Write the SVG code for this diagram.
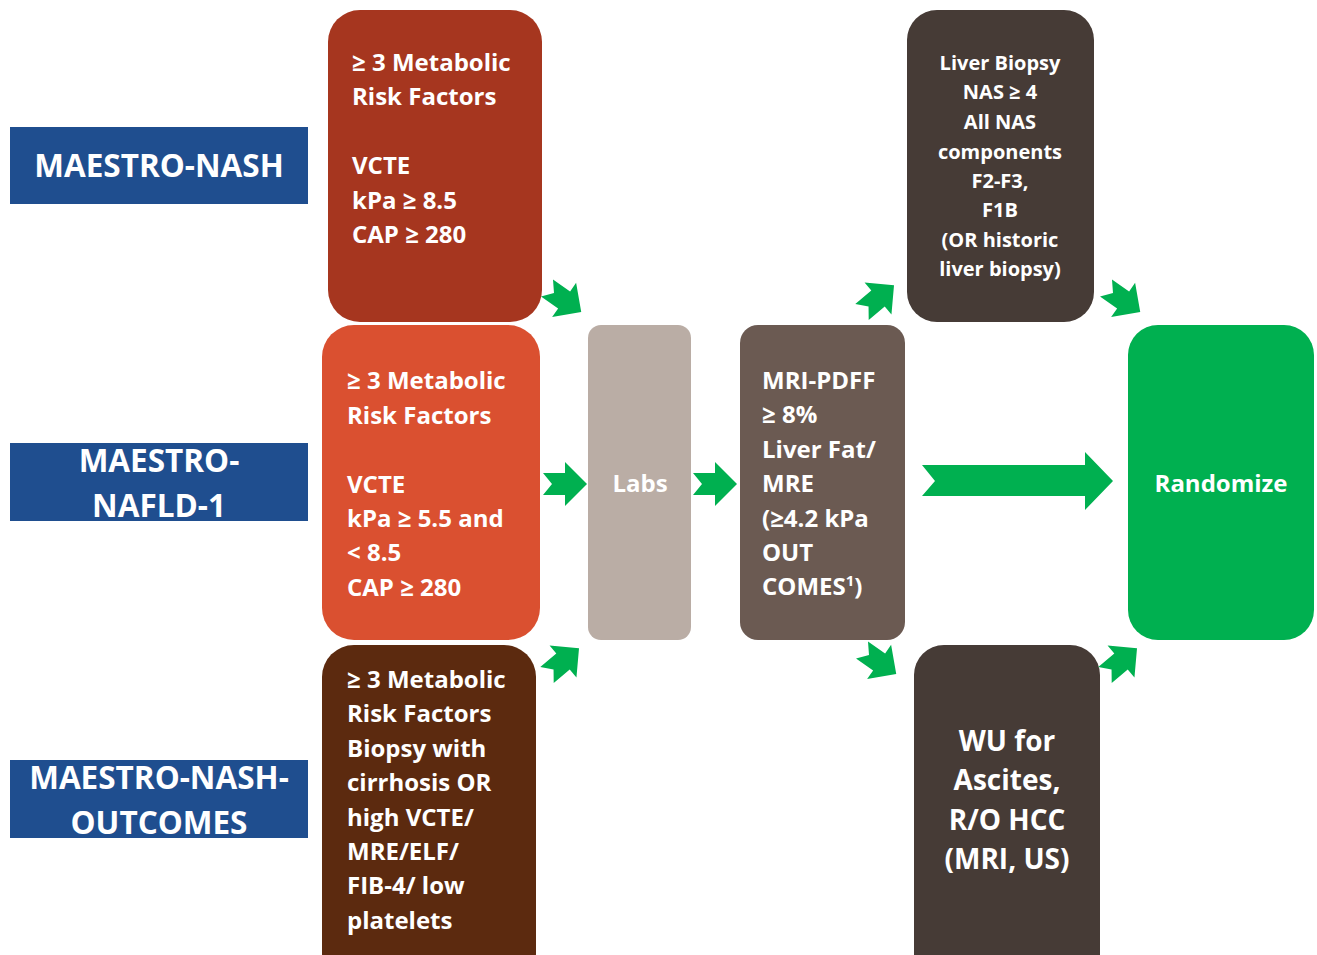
<svg xmlns="http://www.w3.org/2000/svg" xmlns:xlink="http://www.w3.org/1999/xlink" width="1317" height="955" viewBox="0 0 1317 955">
<style>
.t{font-family:"Open Sans","Liberation Sans",Arial,sans-serif;font-weight:bold;fill:#fff}
.lbl{font-size:31.5px;text-anchor:middle}
.bx{font-size:24px}
.sm{font-size:20px;text-anchor:middle}
.big{font-size:28px;text-anchor:middle}
.arr{fill:#00B050}
</style>
<defs>
<path id="ch" d="M0,-11 L22,-11 L22,-22 L44,0 L22,22 L22,11 L0,11 L9,0 Z"/>
</defs>
<rect width="1317" height="955" fill="#fff"/>
<g id="lbl-nash"><rect x="10" y="127" width="298" height="77" fill="#1F4E8F"/><text class="t lbl" x="159" y="177">MAESTRO-NASH</text></g>
<g id="lbl-nafld"><rect x="10" y="443" width="298" height="78" fill="#1F4E8F"/><text class="t lbl" x="159" y="472">MAESTRO-</text><text class="t lbl" x="159" y="517">NAFLD-1</text></g>
<g id="lbl-out"><rect x="10" y="760" width="298" height="78" fill="#1F4E8F"/><text class="t lbl" x="159" y="789">MAESTRO-NASH-</text><text class="t lbl" x="159" y="834">OUTCOMES</text></g>
<g id="box-nash"><rect x="328" y="10" width="214" height="312" rx="32" fill="#A6361F"/>
<text class="t bx"><tspan x="352" y="71">≥ 3 Metabolic</tspan><tspan x="352" y="105">Risk Factors</tspan><tspan x="352" y="174">VCTE</tspan><tspan x="352" y="209">kPa ≥ 8.5</tspan><tspan x="352" y="243">CAP ≥ 280</tspan></text></g>
<g id="box-nafld"><rect x="322" y="325" width="218" height="315" rx="32" fill="#DA5030"/>
<text class="t bx"><tspan x="347" y="389">≥ 3 Metabolic</tspan><tspan x="347" y="424">Risk Factors</tspan><tspan x="347" y="493">VCTE</tspan><tspan x="347" y="527">kPa ≥ 5.5 and</tspan><tspan x="347" y="561">&lt; 8.5</tspan><tspan x="347" y="596">CAP ≥ 280</tspan></text></g>
<g id="box-out"><rect x="322" y="645" width="214" height="340" rx="32" fill="#5C2A0F"/>
<text class="t bx"><tspan x="347" y="688">≥ 3 Metabolic</tspan><tspan x="347" y="722">Risk Factors</tspan><tspan x="347" y="757">Biopsy with</tspan><tspan x="347" y="791">cirrhosis OR</tspan><tspan x="347" y="826">high VCTE/</tspan><tspan x="347" y="860">MRE/ELF/</tspan><tspan x="347" y="894">FIB-4/ low</tspan><tspan x="347" y="929">platelets</tspan></text></g>
<g id="box-labs"><rect x="588" y="325" width="103" height="315" rx="13" fill="#BAADA5"/><text class="t bx" x="640" y="492" text-anchor="middle">Labs</text></g>
<g id="box-mri"><rect x="740" y="325" width="165" height="315" rx="18" fill="#6B5A52"/>
<text class="t bx"><tspan x="762" y="389">MRI-PDFF</tspan><tspan x="762" y="423">≥ 8%</tspan><tspan x="762" y="458">Liver Fat/</tspan><tspan x="762" y="492">MRE</tspan><tspan x="762" y="527">(≥4.2 kPa</tspan><tspan x="762" y="561">OUT</tspan><tspan x="762" y="595">COMES<tspan font-size="15" dy="-9">1</tspan><tspan dy="9">)</tspan></tspan></text></g>
<g id="box-biopsy"><rect x="907" y="10" width="187" height="312" rx="30" fill="#463B36"/>
<text class="t sm"><tspan x="1000" y="70">Liver Biopsy</tspan><tspan x="1000" y="99">NAS ≥ 4</tspan><tspan x="1000" y="129">All NAS</tspan><tspan x="1000" y="159">components</tspan><tspan x="1000" y="188">F2-F3,</tspan><tspan x="1000" y="217">F1B</tspan><tspan x="1000" y="247">(OR historic</tspan><tspan x="1000" y="276">liver biopsy)</tspan></text></g>
<g id="box-wu"><rect x="914" y="645" width="186" height="340" rx="30" fill="#463B36"/>
<text class="t big"><tspan x="1007" y="751">WU for</tspan><tspan x="1007" y="790">Ascites,</tspan><tspan x="1007" y="830">R/O HCC</tspan><tspan x="1007" y="869">(MRI, US)</tspan></text></g>
<g id="box-rand"><rect x="1128" y="325" width="186" height="315" rx="30" fill="#00B050"/><text class="t bx" x="1221" y="492" text-anchor="middle">Randomize</text></g>
<g id="connectors" class="arr">
<use xlink:href="#ch" transform="translate(543,484)"/>
<use xlink:href="#ch" transform="translate(693,484)"/>
<path d="M922,465 L1085,465 L1085,452 L1113,481 L1085,510 L1085,496 L922,496 L935,481 Z"/>
<use xlink:href="#ch" transform="translate(547,288) rotate(35) scale(0.95)"/>
<use xlink:href="#ch" transform="translate(1106,288) rotate(35) scale(0.95)"/>
<use xlink:href="#ch" transform="translate(862,650) rotate(35) scale(0.95)"/>
<use xlink:href="#ch" transform="translate(862,312) rotate(-40) scale(0.95)"/>
<use xlink:href="#ch" transform="translate(547,675) rotate(-40) scale(0.95)"/>
<use xlink:href="#ch" transform="translate(1105,675) rotate(-40) scale(0.95)"/>
</g>
</svg>
